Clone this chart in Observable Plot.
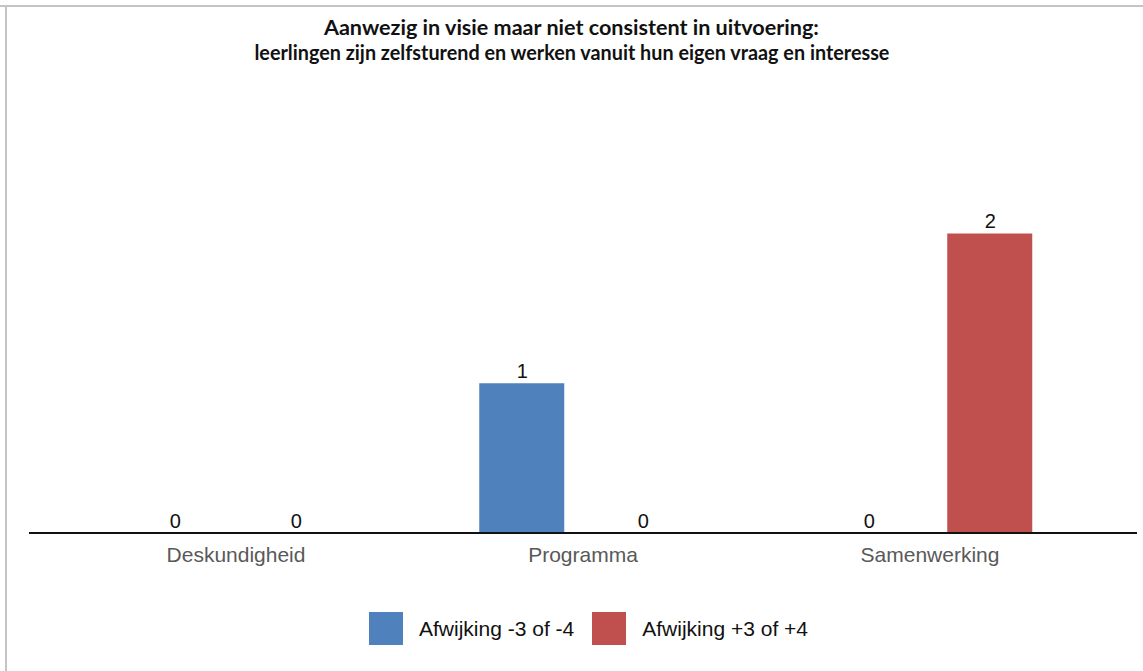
<!DOCTYPE html>
<html>
<head>
<meta charset="utf-8">
<script src="https://cdn.jsdelivr.net/npm/d3@7"></script>
<script src="https://cdn.jsdelivr.net/npm/@observablehq/plot@0.6"></script>
<style>
  html, body { margin: 0; padding: 0; background: #fff; overflow: hidden; }
  #page { position: relative; width: 1143px; height: 671px; }
  .edge-top { position: absolute; left: 0; top: 5px; width: 1143px; height: 2px; background: #c4c4c4; }
  .edge-left { position: absolute; left: 5px; top: 5px; width: 2px; height: 666px; background: #c4c4c4; }
  #title { height: 70px; box-sizing: border-box; padding-top: 15px; text-align: center;
           font-family: Lato, "Open Sans", "Liberation Sans", sans-serif;
           font-weight: bold; font-size: 20px; line-height: 25px; color: #111; }
  #title div { white-space: nowrap; }
  #title span { display: inline-block; transform-origin: 50% 50%; }
  #chart svg { display: block; }
  #legend { padding-left: 369px; margin-top: 22px; }
  #legend > div { margin: 0 !important; }
  .lg-swatch { margin-right: 18px !important; }
  .lg-swatch > svg { margin-right: 16px !important; }
</style>
</head>
<body>
<div id="page">
  <div class="edge-top"></div>
  <div class="edge-left"></div>
  <div id="title">
    <div><span id="t1">Aanwezig in visie maar niet consistent in uitvoering:</span></div>
    <div><span id="t2">leerlingen zijn zelfsturend en werken vanuit hun eigen vraag en interesse</span></div>
  </div>
  <div id="chart"></div>
  <div id="legend"></div>
</div>
<script>
const categories = ["Deskundigheid", "Programma", "Samenwerking"];
const series = ["Afwijking -3 of -4", "Afwijking +3 of +4"];
const valuesMinus = [0, 1, 0];
const valuesPlus = [0, 0, 2];
const colors = ["#4f81bd", "#c0504d"];

const data = [];
categories.forEach((c, i) => {
  data.push({category: c, series: series[0], value: valuesMinus[i]});
  data.push({category: c, series: series[1], value: valuesPlus[i]});
});

// fit title line widths to the reference
function fit(id, target) {
  const el = document.getElementById(id);
  el.style.transform = `scaleX(${target / el.getBoundingClientRect().width})`;
}
fit("t1", 495);
fit("t2", 635);

const plot = Plot.plot({
  width: 1143,
  height: 520,
  marginLeft: 60.75,
  marginRight: 39.75,
  marginTop: 163.5,
  marginBottom: 57,
  style: {fontFamily: "'Liberation Sans', Arial, sans-serif", fontSize: "21px", color: "#595959", background: "transparent", overflow: "visible"},
  facet: {data, x: "category"},
  fx: {domain: categories, paddingInner: 0, paddingOuter: 0, axis: "bottom", tickSize: 0, tickPadding: 14, label: null},
  x: {domain: series, paddingInner: 0.295, paddingOuter: 0.572, axis: null},
  y: {domain: [0, 2], axis: null},
  color: {domain: series, range: colors},
  marks: [
    Plot.barY(data, {x: "series", y: "value", fill: "series"}),
    Plot.ruleY([0], {stroke: "#111", strokeWidth: 2, dy: -0.5, insetLeft: -33, insetRight: -34}),
    Plot.text(data, {x: "series", y: "value", text: d => String(d.value), dy: -6, lineAnchor: "bottom", fontSize: 20, fill: "#111"})
  ]
});
document.getElementById("chart").appendChild(plot);

const legend = Plot.legend({
  color: {type: "ordinal", domain: series, range: colors},
  legend: "swatches",
  swatchWidth: 34,
  swatchHeight: 33,
  className: "lg",
  style: {fontSize: "21px", fontFamily: "'Liberation Sans', Arial, sans-serif", color: "#111"}
});
document.getElementById("legend").appendChild(legend);
</script>
</body>
</html>
